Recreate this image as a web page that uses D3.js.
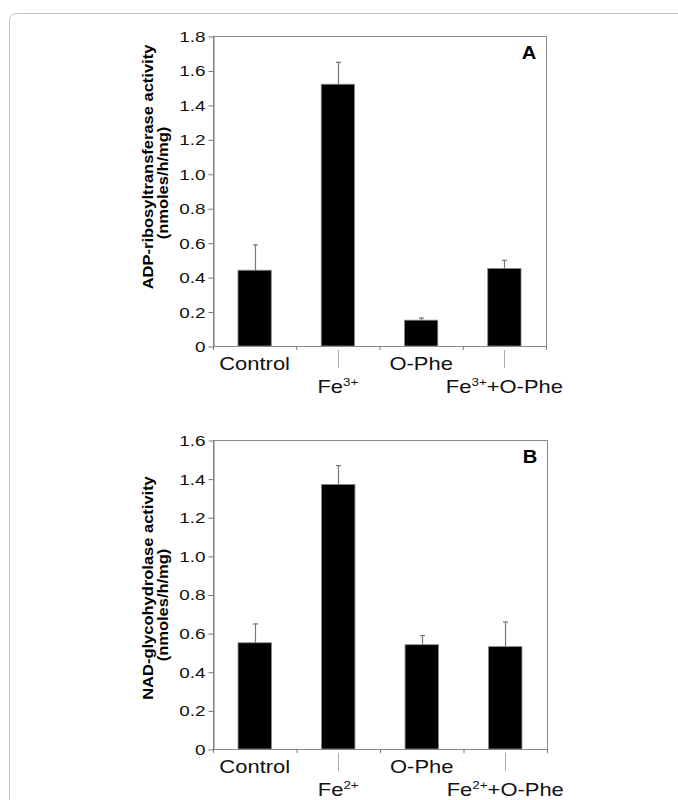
<!DOCTYPE html>
<html>
<head>
<meta charset="utf-8">
<script src="https://cdn.jsdelivr.net/npm/d3@7"></script>
<style>
  body { margin: 0; background: #fff; }
  svg { display: block; font-family: "Liberation Sans", Arial, Helvetica, sans-serif; }
</style>
</head>
<body>
<div id="chart"></div>
<script>
// panel A: ADP-ribosyltransferase
var categoriesA = ["Control", "Fe{3+}", "O-Phe", "Fe{3+}+O-Phe"];
var meansA = [0.44, 1.52, 0.15, 0.45];
var errorsA = [0.15, 0.13, 0.015, 0.05];
var ticksA = [0, 0.2, 0.4, 0.6, 0.8, 1.0, 1.2, 1.4, 1.6, 1.8];

// panel B: NAD-glycohydrolase
var categoriesB = ["Control", "Fe{2+}", "O-Phe", "Fe{2+}+O-Phe"];
var meansB = [0.55, 1.37, 0.54, 0.53];
var errorsB = [0.10, 0.10, 0.05, 0.13];
var ticksB = [0, 0.2, 0.4, 0.6, 0.8, 1.0, 1.2, 1.4, 1.6];

var stretch = 1.22;   // the figure is a bit wider than tall

var svg = d3.select("#chart")
    .append("svg")
    .attr("width", 678)
    .attr("height", 800);

// rounded frame around the figure, runs off the right and bottom
svg.append("rect")
    .attr("x", 9.5).attr("y", 13.5)
    .attr("width", 720).attr("height", 840)
    .attr("rx", 7)
    .attr("fill", "none")
    .attr("stroke", "#c4c4c4")
    .attr("stroke-width", 1);

function drawPanel(p) {
    var x = d3.scaleBand().domain(p.cats).range([p.left, p.right]);
    var y = d3.scaleLinear().domain([0, p.ticks[p.ticks.length - 1]]).range([p.bottom, p.top]);
    var barW = x.bandwidth() * 0.4;
    var g = svg.append("g");

    // plot box
    g.append("rect")
        .attr("x", p.left + 0.5).attr("y", y(p.ticks[p.ticks.length - 1]) + 0.5)
        .attr("width", p.right - p.left).attr("height", p.bottom - p.top)
        .attr("fill", "none")
        .attr("stroke", "#8a8a8a");

    // y axis
    var ax = g.append("g")
        .attr("transform", "translate(" + (p.left + 0.5) + ",0.5)")
        .call(d3.axisLeft(y).tickValues(p.ticks).tickSize(5).tickSizeOuter(0)
            .tickFormat(function(d) { return d === 0 ? "0" : d3.format(".1f")(d); }));
    ax.select(".domain").attr("stroke", "#777");
    ax.selectAll(".tick line").attr("stroke", "#777");
    ax.selectAll(".tick text")
        .attr("x", -8 / stretch)
        .attr("transform", "scale(" + stretch + ",1)")
        .attr("font-size", 15.5)
        .attr("fill", "#111");

    // small x ticks at category boundaries
    var bounds = p.cats.map(function(c) { return x(c); }).concat([p.right]);
    g.selectAll(".xtick").data(bounds).enter().append("line")
        .attr("x1", function(d) { return d + 0.5; }).attr("x2", function(d) { return d + 0.5; })
        .attr("y1", p.bottom).attr("y2", p.bottom + 4)
        .attr("stroke", "#777");

    // bars
    g.selectAll(".bar").data(p.means).enter().append("rect")
        .attr("x", function(d, i) { return x(p.cats[i]) + x.bandwidth() / 2 - barW / 2; })
        .attr("y", function(d) { return y(d); })
        .attr("width", barW)
        .attr("height", function(d) { return y(0) - y(d); })
        .attr("fill", "#000")
        .attr("stroke", "#888")
        .attr("stroke-width", 0.8);

    // error bars (upper only)
    p.means.forEach(function(m, i) {
        var cx = Math.round(x(p.cats[i]) + x.bandwidth() / 2) + 0.5;
        var top = y(m + p.errs[i]);
        g.append("line")
            .attr("x1", cx).attr("x2", cx)
            .attr("y1", y(m)).attr("y2", top)
            .attr("stroke", "#777").attr("stroke-width", 1.2);
        g.append("line")
            .attr("x1", cx - 2.5).attr("x2", cx + 2.5)
            .attr("y1", top + 0.5).attr("y2", top + 0.5)
            .attr("stroke", "#777").attr("stroke-width", 1.2);
    });

    // category labels, staggered
    p.cats.forEach(function(c, i) {
        var cx = x(c) + x.bandwidth() / 2;
        var low = i % 2 === 1;
        var base = p.bottom + (low ? 47 : 24);
        if (low) {
            g.append("line")
                .attr("x1", Math.round(cx) + 0.5).attr("x2", Math.round(cx) + 0.5)
                .attr("y1", p.bottom + 4).attr("y2", p.bottom + 22)
                .attr("stroke", "#aaa");
        }
        var t = g.append("text")
            .attr("transform", "translate(" + cx + "," + base + ") scale(" + stretch + ",1)")
            .attr("text-anchor", "middle")
            .attr("font-size", 18)
            .attr("fill", "#111");
        var parts = c.split(/[{}]/);
        parts.forEach(function(s, k) {
            if (!s) return;
            var sup = k % 2 === 1;
            t.append("tspan")
                .attr("font-size", sup ? 11 : 18)
                .attr("dy", sup ? -7 : (k > 0 ? 7 : 0))
                .text(s);
        });
    });

    // panel letter
    g.append("text")
        .attr("transform", "translate(" + (p.right - 17) + "," + (p.top + 23) + ") scale(1.12,1)")
        .attr("text-anchor", "middle")
        .attr("font-size", 18)
        .attr("font-weight", "bold")
        .text(p.letter);

    // y label, two lines (glyphs a little thinner across than along)
    [[p.label1, 153, p.lab1Y], [p.label2, 168, p.lab2Y]].forEach(function(l) {
        g.append("text")
            .attr("transform", "translate(" + l[1] + "," + l[2] + ") scale(0.88,1) rotate(-90)")
            .attr("font-size", 16.5)
            .attr("font-weight", "bold")
            .attr("text-anchor", "middle")
            .text(l[0]);
    });
}

drawPanel({
    cats: categoriesA, means: meansA, errs: errorsA, ticks: ticksA,
    left: 213, right: 546, top: 36, bottom: 346,
    letter: "A",
    label1: "ADP-ribosyltransferase activity", label2: "(nmoles/h/mg)",
    lab1Y: 167, lab2Y: 183
});

drawPanel({
    cats: categoriesB, means: meansB, errs: errorsB, ticks: ticksB,
    left: 213, right: 547, top: 440, bottom: 749,
    letter: "B",
    label1: "NAD-glycohydrolase activity", label2: "(nmoles/h/mg)",
    lab1Y: 588, lab2Y: 605
});
</script>
</body>
</html>
